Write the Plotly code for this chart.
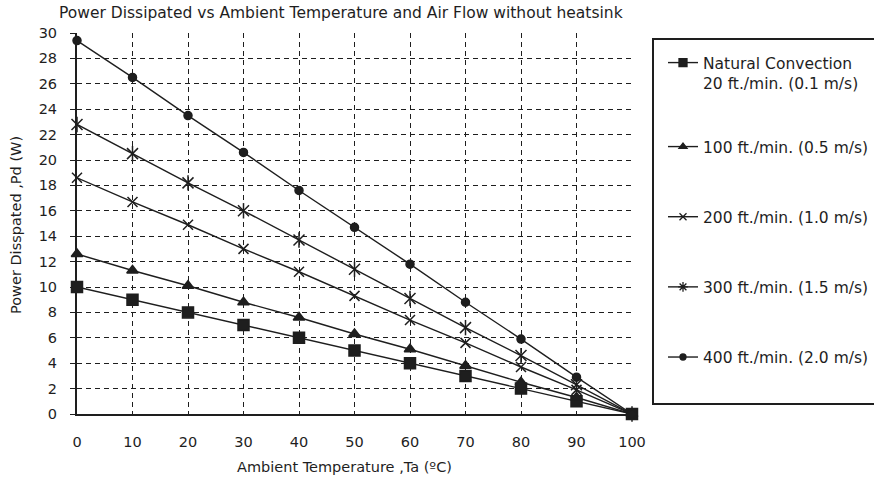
import plotly.graph_objects as go

temps = [0, 10, 20, 30, 40, 50, 60, 70, 80, 90, 100]
natural = [10, 9, 8, 7, 6, 5, 4, 3, 2, 1, 0]
flow100 = [12.6, 11.3, 10.1, 8.8, 7.6, 6.3, 5.1, 3.8, 2.5, 1.3, 0]
flow200 = [18.6, 16.7, 14.9, 13.0, 11.2, 9.3, 7.4, 5.6, 3.7, 1.9, 0]
flow300 = [22.8, 20.5, 18.2, 16.0, 13.7, 11.4, 9.1, 6.8, 4.6, 2.3, 0]
flow400 = [29.4, 26.5, 23.5, 20.6, 17.6, 14.7, 11.8, 8.8, 5.9, 2.9, 0]

names = ["Natural Convection<br>20 ft./min. (0.1 m/s)",
         "100 ft./min. (0.5 m/s)",
         "200 ft./min. (1.0 m/s)",
         "300 ft./min. (1.5 m/s)",
         "400 ft./min. (2.0 m/s)"]
series = [natural, flow100, flow200, flow300, flow400]
symbols = ["square", "triangle-up", "x-thin-open", "x-thin-open", "circle"]
sizes = [11, 10, 10, 11, 8]
legend_symbols = ["square", "triangle-up", "x-thin-open", "asterisk-open", "circle"]
legend_sizes = [8, 7, 7, 8, 6]

INK = "#1e1e1e"
FONT = "DejaVu Sans, Liberation Sans, Arial, sans-serif"
FS_TICK = 14.5
FS_TITLE = 15.5
FS_LEG = 15.5

fig = go.Figure()
for i, (nm, ys, sym, sz) in enumerate(zip(names, series, symbols, sizes)):
    fig.add_trace(go.Scatter(
        x=temps, y=ys, name=nm, mode="lines+markers",
        showlegend=False,
        line=dict(color=INK, width=1.4),
        marker=dict(symbol=sym, size=sz, color=INK,
                    line=dict(color=INK, width=1.5)),
        cliponaxis=False,
    ))
    if i == 3:
        # six-spoke asterisk: add the vertical stroke on top of the "x"
        fig.add_trace(go.Scatter(
            x=temps, y=ys, mode="markers", showlegend=False,
            marker=dict(symbol="line-ns-open", size=sz, color=INK,
                        line=dict(color=INK, width=1.5)),
            cliponaxis=False,
        ))

for i, (nm, lsym, lsz) in enumerate(zip(names, legend_symbols, legend_sizes)):
    fig.add_trace(go.Scatter(
        x=[None], y=[None], name=nm, mode="lines+markers",
        legend="legend" if i == 0 else "legend2",
        legendgroup=f"g{i}", showlegend=True,
        line=dict(color=INK, width=1.4),
        marker=dict(symbol=lsym, size=lsz, color=INK,
                    line=dict(color=INK, width=1.3)),
    ))

L, R, T, B = 77, 242, 33, 69
W, H = 874, 483
plot_w = W - L - R
plot_h = H - T - B

def px_x(p):
    return (p - L) / plot_w

def px_y(p):
    return (H - B - p) / plot_h

legend_common = dict(
    xanchor="left", yanchor="top",
    traceorder="grouped", tracegroupgap=47,
    bgcolor="rgba(0,0,0,0)", borderwidth=0,
    font=dict(family=FONT, size=FS_LEG, color=INK),
    valign="top", itemsizing="trace", itemwidth=30,
)

fig.update_layout(
    width=W, height=H,
    margin=dict(l=L, r=R, t=T, b=B, autoexpand=False),
    paper_bgcolor="white", plot_bgcolor="white",
    font=dict(family=FONT, size=FS_TICK, color=INK),
    showlegend=True,
    legend=dict(x=px_x(663), y=px_y(46), **legend_common),
    legend2=dict(x=px_x(663), y=px_y(130), **legend_common),
    xaxis=dict(
        range=[0, 100], tickmode="array", tickvals=temps,
        showgrid=True, gridcolor=INK, gridwidth=1, griddash="5px,4px",
        showline=True, linecolor=INK, linewidth=2,
        ticks="", ticklabelstandoff=14, zeroline=False,
        tickfont=dict(size=FS_TICK),
    ),
    yaxis=dict(
        range=[0, 30], tickmode="array", tickvals=list(range(0, 31, 2)),
        showgrid=True, gridcolor=INK, gridwidth=1, griddash="5px,4px",
        showline=True, linecolor=INK, linewidth=2,
        ticks="outside", ticklen=5, tickcolor=INK, tickwidth=1,
        ticklabelstandoff=10, zeroline=False,
        tickfont=dict(size=FS_TICK),
    ),
    shapes=[dict(type="rect", xref="paper", yref="paper",
                 x0=px_x(653), x1=px_x(1000), y0=px_y(404), y1=px_y(39),
                 line=dict(color=INK, width=2), fillcolor="rgba(0,0,0,0)")],
    annotations=[
        dict(text="Power Dissipated vs Ambient Temperature and Air Flow without heatsink",
             xref="paper", yref="paper", x=px_x(341), y=px_y(13),
             xanchor="center", yanchor="middle", showarrow=False,
             font=dict(size=FS_TITLE, family=FONT, color=INK)),
        dict(text="Ambient Temperature ,Ta (ºC)",
             xref="paper", yref="paper", x=px_x(344), y=px_y(467),
             xanchor="center", yanchor="middle", showarrow=False,
             font=dict(size=14.5, family=FONT, color=INK)),
        dict(text="Power Disspated ,Pd (W)", textangle=-90,
             xref="paper", yref="paper", x=px_x(16), y=px_y(225),
             xanchor="center", yanchor="middle", showarrow=False,
             font=dict(size=14.5, family=FONT, color=INK)),
    ],
)

fig.write_html("out.html",
               config={"displayModeBar": False},
               post_script="document.body.style.margin='0';document.body.style.overflow='hidden';")
